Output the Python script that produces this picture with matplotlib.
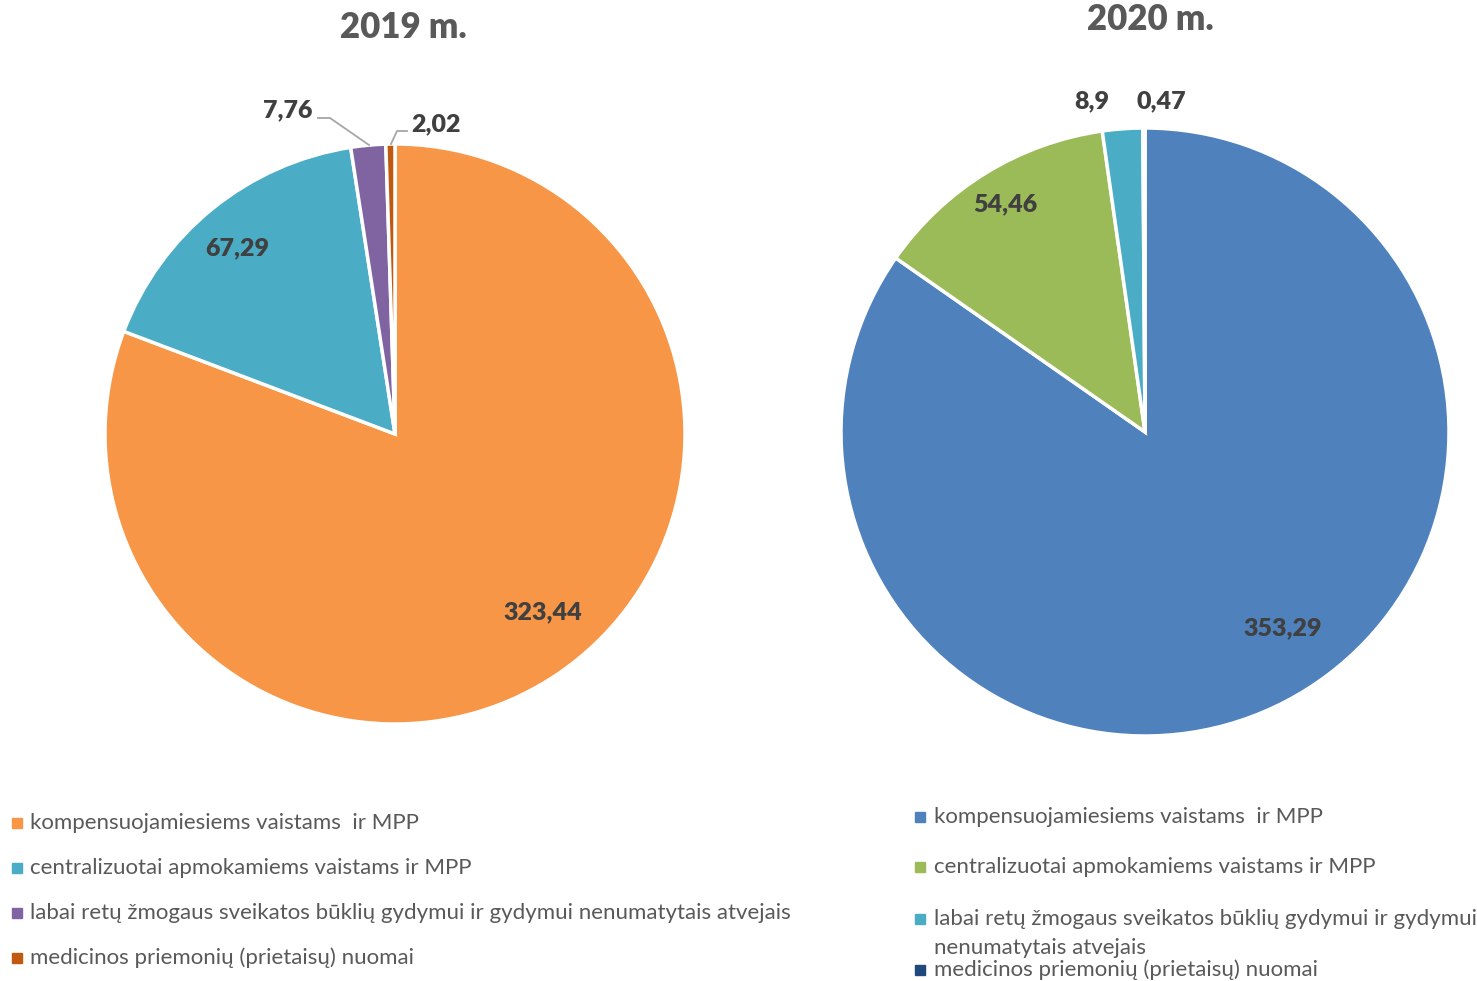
import matplotlib.pyplot as plt

plt.rcParams['font.family'] = ['Lato', 'DejaVu Sans']

# data
categories = [
    "kompensuojamiesiems vaistams  ir MPP",
    "centralizuotai apmokamiems vaistams ir MPP",
    "labai retų žmogaus sveikatos būklių gydymui ir gydymui nenumatytais atvejais",
    "medicinos priemonių (prietaisų) nuomai",
]
categories_2020 = [
    "kompensuojamiesiems vaistams  ir MPP",
    "centralizuotai apmokamiems vaistams ir MPP",
    "labai retų žmogaus sveikatos būklių gydymui ir gydymui\nnenumatytais atvejais",
    "medicinos priemonių (prietaisų) nuomai",
]
values_2019 = [323.44, 67.29, 7.76, 2.02]
values_2020 = [353.29, 54.46, 8.9, 0.47]
colors_2019 = ['#F79646', '#4BACC6', '#8064A2', '#C0590F']
colors_2020 = ['#4F81BD', '#9BBB59', '#4BACC6', '#1F497D']

W, H = 1477, 981
fig = plt.figure(figsize=(W / 100, H / 100), dpi=100)
ax = fig.add_axes([0, 0, 1, 1])


def fmt(v):
    return str(v).replace('.', ',')


lbl_kw = dict(fontsize=18, fontweight='heavy', color='#404040', ha='center', va='center')
wp = dict(edgecolor='white', linewidth=2.5)

# 2019 pie
ax.pie(values_2019, colors=colors_2019, startangle=90, counterclock=False,
       center=(395, H - 434), radius=290, wedgeprops=wp)
pos_2019 = [(543, 612), (237, 248), (288, 110), (436, 124)]
for v, (x, y) in zip(values_2019, pos_2019):
    ax.text(x, H - y, fmt(v), **lbl_kw)
ax.plot([318, 330, 369], [H - 118, H - 118, H - 145], color='#A6A6A6', lw=1.3)
ax.plot([407, 397, 391], [H - 131, H - 131, H - 144], color='#A6A6A6', lw=1.3)

# 2020 pie
ax.pie(values_2020, colors=colors_2020, startangle=90, counterclock=False,
       center=(1145, H - 432), radius=304, wedgeprops=wp)
pos_2020 = [(1283, 628), (1005, 204), (1092, 101), (1161, 101)]
for v, (x, y) in zip(values_2020, pos_2020):
    ax.text(x, H - y, fmt(v), **lbl_kw)

# titles
ttl_kw = dict(fontsize=25, fontweight='heavy', color='#595959', ha='center', va='center')
ax.text(403, H - 27, "2019 m.", **ttl_kw)
ax.text(1150, H - 20, "2020 m.", **ttl_kw)

# legends
leg_kw = dict(fontsize=16, color='#595959', ha='left', va='center')
for lab, col, y in zip(categories, colors_2019, [823, 868, 913, 958]):
    ax.plot(17, H - y, marker='s', ms=7, color=col, ls='none')
    ax.text(30, H - y, lab, **leg_kw)

for lab, col, y in zip(categories_2020, colors_2020, [817, 867, 919, 970]):
    ax.plot(920, H - y, marker='s', ms=7, color=col, ls='none')
    for i, ln in enumerate(lab.split('\n')):
        ax.text(934, H - y - 29 * i, ln, **leg_kw)

ax.set_xlim(0, W)
ax.set_ylim(0, H)
ax.set_aspect('equal')
ax.axis('off')

fig.savefig('out.png', dpi=100, facecolor='white')
